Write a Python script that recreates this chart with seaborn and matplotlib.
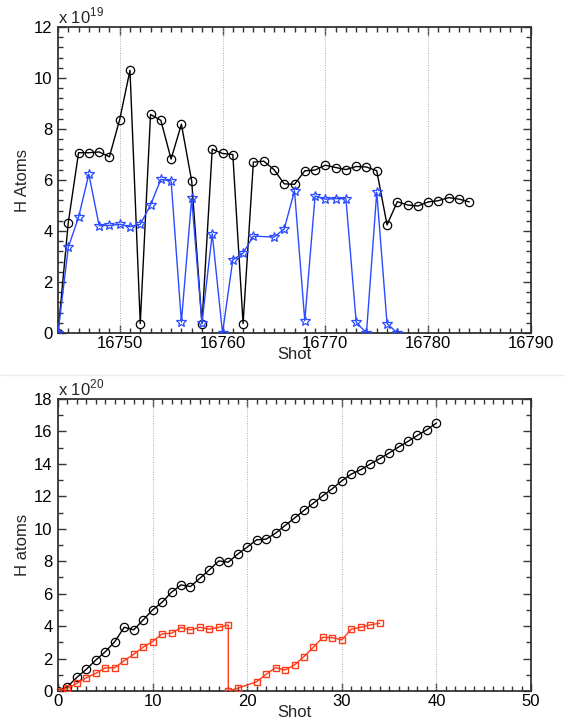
import numpy as np
import pandas as pd
import matplotlib
matplotlib.use("Agg")
import matplotlib.pyplot as plt
from matplotlib.ticker import MultipleLocator
from matplotlib.lines import Line2D
import seaborn as sns

# ---------------- data (values in units of the axis exponent) ----------------
top_shots_black = list(range(16744, 16785))
top_black = [0, 4.33, 7.07, 7.07, 7.1, 6.91, 8.37, 10.3, 0.37, 8.57, 8.34, 6.82,
             8.19, 5.96, 0.37, 7.21, 7.04, 7.0, 0.37, 6.7, 6.74, 6.41, 5.85, 5.83,
             6.36, 6.39, 6.58, 6.49, 6.41, 6.53, 6.51, 6.36, 4.24, 5.15, 5.02,
             4.98, 5.14, 5.19, 5.31, 5.25, 5.14]

top_shots_blue = list(range(16744, 16764)) + list(range(16765, 16778))
top_blue = [0, 3.36, 4.54, 6.23, 4.21, 4.22, 4.26, 4.17, 4.26, 5.02, 6.02, 5.97,
            0.43, 5.28, 0.39, 3.89, 0, 2.87, 3.13, 3.8,
            3.76, 4.08, 5.58, 0.48, 5.37, 5.25, 5.27, 5.27, 0.42, 0, 5.52, 0.37, 0]

bot_shots_black = list(range(0, 41))
bot_black = [0, 0.27, 0.84, 1.34, 1.91, 2.42, 3.04, 3.93, 3.77, 4.38, 5.0, 5.47,
             6.09, 6.54, 6.44, 6.95, 7.47, 8.02, 7.94, 8.44, 8.87, 9.32, 9.36,
             9.73, 10.2, 10.66, 11.13, 11.58, 12.04, 12.47, 12.96, 13.37, 13.64,
             13.99, 14.32, 14.67, 15.04, 15.39, 15.76, 16.11, 16.52]

bot_shots_red = list(range(0, 19)) + [18, 19] + list(range(21, 35))
bot_red = [0, 0.17, 0.47, 0.82, 1.09, 1.43, 1.43, 1.87, 2.26, 2.7, 3.05, 3.52,
           3.56, 3.91, 3.77, 3.93, 3.81, 3.93, 4.07,
           0, 0.17,
           0.57, 1.03, 1.44, 1.30, 1.6, 2.12, 2.7, 3.31, 3.29, 3.15, 3.81, 3.93,
           4.07, 4.18]

top_xticks = [16750, 16760, 16770, 16780, 16790]
top_yticks = [0, 2, 4, 6, 8, 10, 12]
bot_xticks = [0, 10, 20, 30, 40, 50]
bot_yticks = [0, 2, 4, 6, 8, 10, 12, 14, 16, 18]

# ---------------- style ----------------
sns.set_style("ticks")
plt.rcParams['font.family'] = ['Liberation Sans', 'DejaVu Sans']
plt.rcParams['mathtext.fontset'] = 'custom'
plt.rcParams['mathtext.rm'] = 'Liberation Sans'

BLUE = "#2a4bff"
RED = "#ff3a1a"
AXC = "#333333"

fig = plt.figure(figsize=(5.65, 7.2), dpi=100)
ax1 = fig.add_axes([58/565, 1-333/720, (531-58)/565, (333-27)/720])
ax2 = fig.add_axes([58/565, 1-691/720, (531-58)/565, (691-399)/720])

def draw(ax, x, y, color, marker, ms, mew=0.9):
    df = pd.DataFrame({"x": x, "y": y})
    sns.lineplot(data=df, x="x", y="y", ax=ax, estimator=None, sort=False,
                 color=color, lw=1.0, marker=marker, markersize=ms,
                 markerfacecolor="none", markeredgecolor=color,
                 markeredgewidth=mew, zorder=3)

draw(ax1, top_shots_black, top_black, "black", "o", 6.0)
draw(ax1, top_shots_blue, top_blue, BLUE, "*", 7.5)
draw(ax2, bot_shots_black, bot_black, "black", "o", 6.0)
draw(ax2, bot_shots_red, bot_red, RED, "s", 5.0, 1.0)

def style(ax, xlim, ylim, xt, yt, xminor, yminor, ylabel, expo):
    ax.set_xlim(*xlim)
    ax.set_ylim(*ylim)
    ax.set_xticks(xt)
    ax.set_yticks(yt)
    ax.xaxis.set_minor_locator(MultipleLocator(xminor))
    ax.yaxis.set_minor_locator(MultipleLocator(yminor))
    ax.tick_params(which="both", direction="in", top=True, right=True,
                   colors=AXC, labelcolor="black", width=1.0)
    ax.tick_params(which="major", length=6, labelsize=12)
    ax.tick_params(axis="x", which="major", pad=2)
    ax.tick_params(axis="y", which="major", pad=4)
    ax.tick_params(which="minor", length=3.5)
    for s in ax.spines.values():
        s.set_color(AXC)
        s.set_linewidth(1.3)
    for v in xt:
        if xlim[0] < v < xlim[1]:
            ax.axvline(v, color="#aaaaaa", lw=0.7, ls=(0, (1, 1.5)), zorder=1)
    ax.set_xlabel("Shot", fontsize=12, labelpad=-3)
    ax.set_ylabel(ylabel, fontsize=12, labelpad=3)
    ax.text(0.0, 1.003, r"x 10$^{%d}$" % expo, transform=ax.transAxes,
            ha="left", va="bottom", fontsize=12)

style(ax1, (16744, 16790), (0, 12), top_xticks, top_yticks, 1, 0.4, "H Atoms", 19)
style(ax2, (0, 50), (0, 18), bot_xticks, bot_yticks, 1, 1, "H atoms", 20)

# faint separator between the two panels
fig.add_artist(Line2D([0, 1], [1-375/720, 1-375/720], transform=fig.transFigure,
                      color="#eeeeee", lw=1))

fig.savefig("out.png", dpi=100)
